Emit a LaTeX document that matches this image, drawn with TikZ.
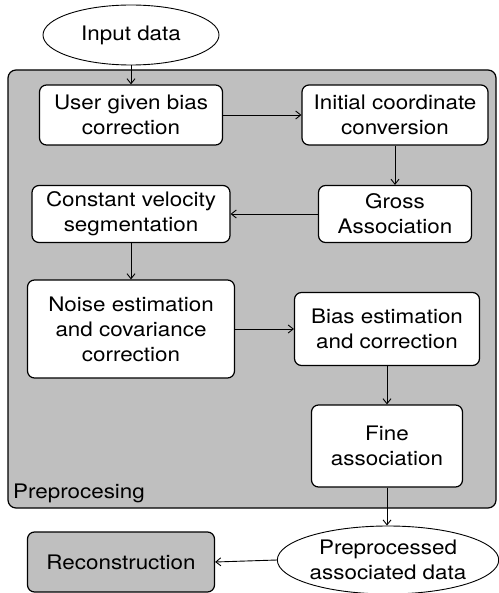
\documentclass[tikz,border=0pt]{standalone}
\usepackage{fontspec}
\setmainfont{TeX Gyre Heros}[FakeStretch=1.12]
\usetikzlibrary{shapes.geometric,arrows.meta}
\definecolor{panel}{RGB}{191,191,191}
\begin{document}
\begin{tikzpicture}[x=1pt,y=-1pt,
  txt/.style={font=\fontsize{20}{25}\selectfont, align=center},
  proc/.style={txt, draw, line width=1.2pt, rounded corners=7pt, fill=white, inner sep=0pt},
  term/.style={txt, ellipse, draw, line width=0.9pt, fill=white, inner sep=0pt},
  flow/.style={-{Straight Barb[length=5pt,width=8pt]}, line width=0.9pt}]
  % canvas
  \fill[white] (0,0) rectangle (498,593);
  \useasboundingbox (0,0) rectangle (498,593);
  % preprocessing panel
  \draw[fill=panel, line width=1.2pt, rounded corners=8pt] (8,70) rectangle (496,508);
  \node[txt, anchor=base west, inner sep=0pt] (lbl) at (13,498) {Preprocesing};
  % terminals
  \node[term, minimum width=176pt, minimum height=60pt] (in) at (131,35) {Input data};
  \node[term, minimum width=218pt, minimum height=68pt] (out) at (388,560) {Preprocessed\\associated data};
  % processing steps
  \node[proc, minimum width=183pt, minimum height=60pt] (ubc) at (131,115) {User given bias\\correction};
  \node[proc, minimum width=186pt, minimum height=60pt] (icc) at (395,115) {Initial coordinate\\conversion};
  \node[proc, minimum width=153pt, minimum height=57pt] (ga) at (395,214) {Gross\\Association};
  \node[proc, minimum width=198pt, minimum height=57pt] (cvs) at (131,214) {Constant velocity\\segmentation};
  \node[proc, minimum width=207pt, minimum height=98pt] (ne) at (131,329) {Noise estimation\\and covariance\\correction};
  \node[proc, minimum width=185pt, minimum height=73pt] (be) at (387,329) {Bias estimation\\and correction};
  \node[proc, minimum width=151pt, minimum height=82pt] (fa) at (387,446) {Fine\\association};
  \node[proc, fill=panel, minimum width=187pt, minimum height=60pt] (rec) at (121,562) {Reconstruction};
  % connectors
  \draw[flow] (in) -- (ubc);
  \draw[flow] (ubc) -- (icc);
  \draw[flow] (icc) -- (ga);
  \draw[flow] (ga) -- (cvs);
  \draw[flow] (cvs) -- (ne);
  \draw[flow] (ne) -- (be);
  \draw[flow] (be) -- (fa);
  \draw[flow] (fa) -- (fa |- out.north);
  \draw[flow] (out.west) -- (rec.east);
\end{tikzpicture}
\end{document}
